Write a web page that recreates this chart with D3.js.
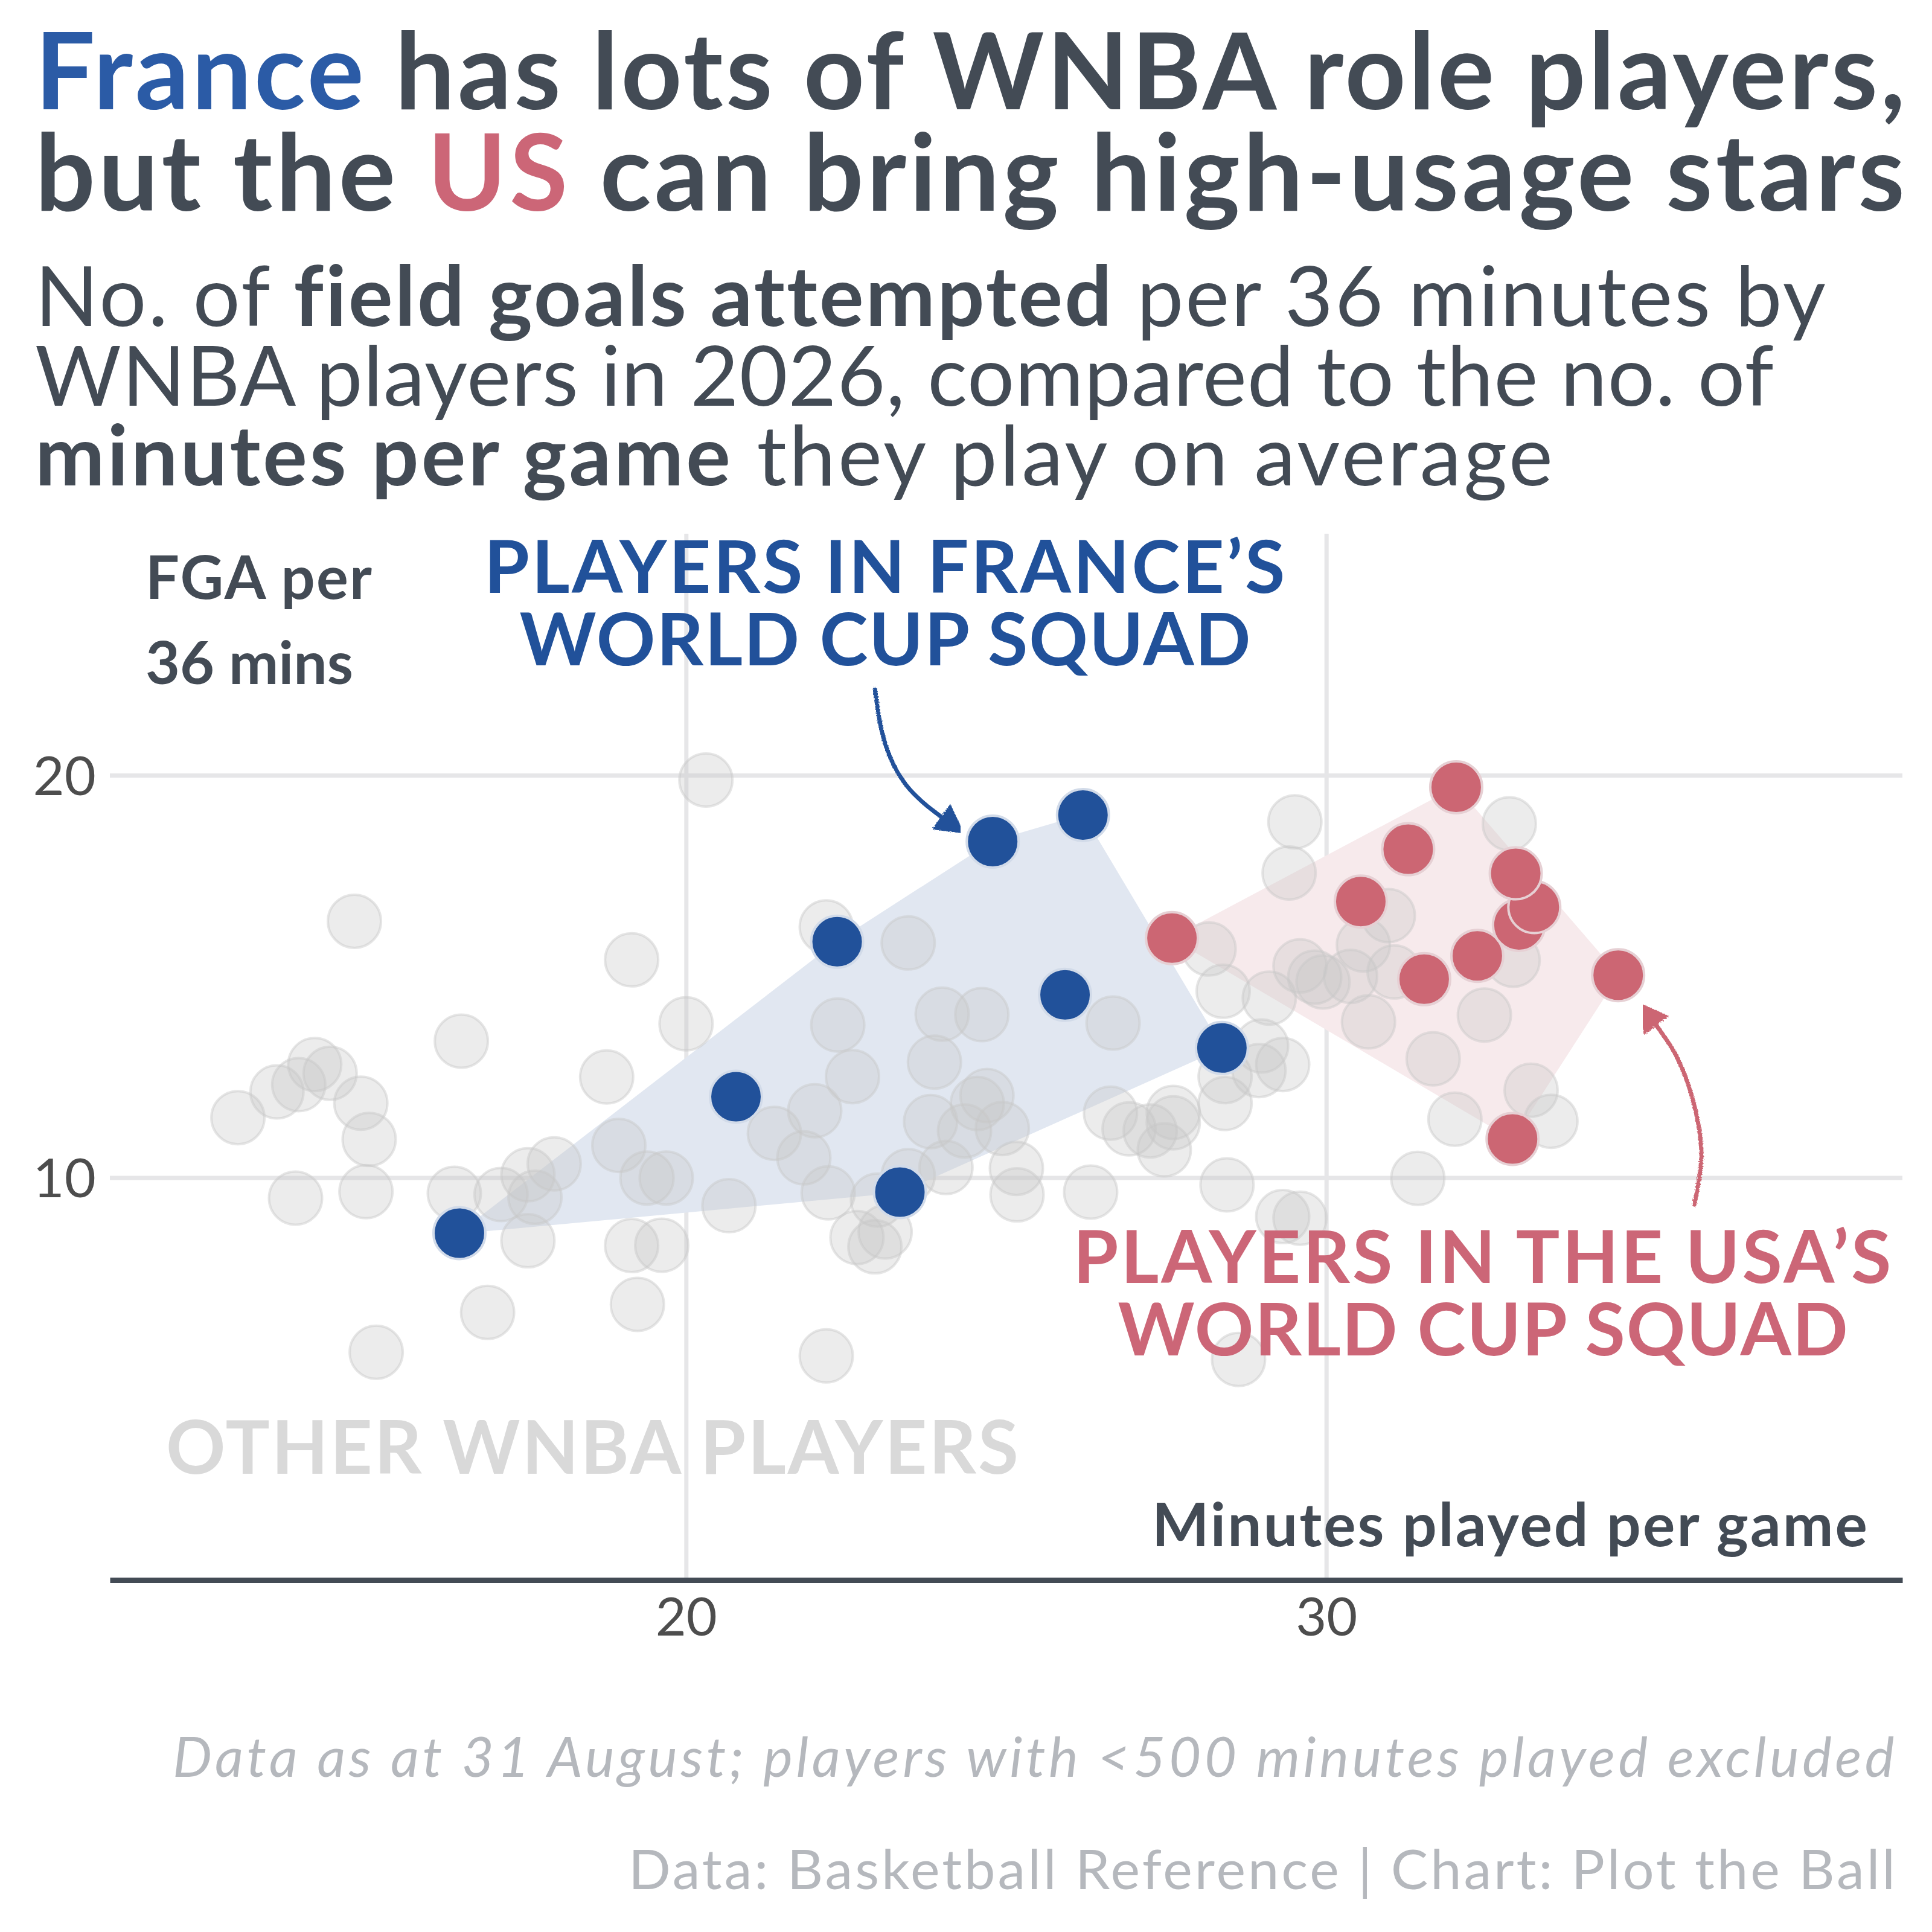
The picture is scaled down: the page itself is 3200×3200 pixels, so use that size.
<!DOCTYPE html>
<html><head><meta charset="utf-8">
<script src="https://cdn.jsdelivr.net/npm/d3@7"></script>
<style>body{margin:0;background:#fff}svg{display:block}</style>
</head><body>
<svg id="chart" width="3200" height="3200"></svg>
<script>
// ---- data: [minutes per game, FGA per 36] ----
const otherPlayers = [
 [20.31,19.88],[14.82,16.37],[19.15,15.41],[20.0,13.82],[16.49,13.39],[18.76,12.50],[14.20,12.81],[14.44,12.59],
 [13.95,12.31],[13.61,12.13],[13.0,11.49],[14.92,11.85],[15.05,10.95],[18.95,10.80],[17.94,10.34],[17.53,10.07],
 [19.39,9.99],[19.69,9.99],[13.90,9.49],[15.0,9.65],[16.38,9.61],[17.11,9.58],[17.64,9.51],[17.53,8.43],
 [19.15,8.31],[19.62,8.32],[16.90,6.65],[19.24,6.85],[15.16,5.66],
 [20.67,9.30],[22.19,16.23],[23.47,15.83],[22.37,13.79],[24.00,14.06],[24.62,14.05],[26.67,13.84],[23.88,12.87],
 [22.60,12.51],[22.01,11.66],[21.38,11.10],[21.84,10.49],[24.70,12.04],[24.55,11.84],[23.82,11.39],[24.35,11.16],
 [24.94,11.22],[23.47,10.05],[24.06,10.25],[25.16,10.23],[25.17,9.57],[22.22,9.62],[22.99,9.44],[22.67,8.51],
 [23.11,8.65],[22.95,8.28],[26.32,9.64],[26.63,11.60],[26.92,11.21],[27.25,11.16],[27.61,11.62],[27.61,11.36],
 [27.47,10.69],[28.17,15.68],[28.39,14.63],[28.42,12.51],[28.42,11.84],[28.45,9.82],[22.19,5.57],[28.63,5.48],
 [29.51,18.84],[29.42,17.57],[32.86,18.79],[30.97,16.51],[30.58,15.78],[32.92,15.40],[29.11,14.46],[29.59,15.26],
 [29.82,14.98],[29.95,14.86],[30.38,15.0],[31.06,15.11],[30.66,13.87],[32.47,14.04],[31.67,12.95],[28.99,13.27],
 [29.32,12.81],[28.95,12.66],[33.20,12.17],[33.51,11.40],[32.01,11.45],[31.43,9.98],[29.32,9.03],[29.59,8.99]
];
const francePlayers = [
 [16.46,8.62],[20.78,12.01],[23.34,9.64],[22.36,15.86],[24.79,18.35],[26.20,19.01],[25.92,14.54],[28.37,13.22]
];
const usaPlayers = [
 [27.59,15.95],[30.54,16.86],[31.28,18.16],[32.03,19.70],[31.53,14.93],[32.36,15.51],
 [33.01,16.28],[33.25,16.72],[32.96,17.56],[34.56,15.03],[32.91,10.96]
];
const xTicks = [20, 30];
const yTicks = [10, 20];
const xDomain = [11, 39];
const yDomain = [0, 26];
// annotation arrow paths, in data units
const franceArrow = [[22.95,22.13],[23.07,21.01],[23.22,20.33],[23.45,19.73],[23.71,19.31],[24.06,18.88]];
const usaArrow = [[35.75,9.33],[35.86,10.58],[35.73,11.91],[35.46,13.05],[35.10,13.90]];

const DARK = "#434b55", BLUE = "#21519a", BLUE_T = "#2b5ba6", RED = "#cc6673";
const FONT = "Lato, 'Noto Sans', sans-serif";

const svg = d3.select("#chart");
svg.append("rect").attr("width",3200).attr("height",3200).attr("fill","#fff");

const x = d3.scaleLinear().domain(xDomain).range([182, 3151]);
const y = d3.scaleLinear().domain(yDomain).range([2617, 884]);

// filter for hand-drawn arrows
const defs = svg.append("defs");
const f = defs.append("filter").attr("id","rough").attr("x","-20%").attr("y","-20%").attr("width","140%").attr("height","140%");
f.append("feTurbulence").attr("type","fractalNoise").attr("baseFrequency",0.6).attr("numOctaves",2).attr("result","n");
f.append("feDisplacementMap").attr("in","SourceGraphic").attr("in2","n").attr("scale",5);
[["headBlue",BLUE],["headRed",RED]].forEach(([id,c])=>{
  defs.append("marker").attr("id",id).attr("viewBox","-5 -30 60 60").attr("markerUnits","userSpaceOnUse")
    .attr("markerWidth",60).attr("markerHeight",60).attr("refX",10).attr("refY",0).attr("orient","auto")
    .append("path").attr("d","M0,-26 L48,0 L0,26 Z").attr("fill",c);
});

// gridlines
svg.append("g").attr("transform",`translate(${x.range()[0]},0)`)
  .call(d3.axisLeft(y).tickValues(yTicks).tickSize(-(x.range()[1]-x.range()[0])).tickFormat(""))
  .call(g=>{g.select(".domain").remove(); g.selectAll("line").attr("stroke","#e6e6e8").attr("stroke-width",7);});
svg.append("g").attr("transform",`translate(0,${y(0)})`)
  .call(d3.axisBottom(x).tickValues(xTicks).tickSize(-(y(0)-y(26))).tickFormat(""))
  .call(g=>{g.select(".domain").remove(); g.selectAll("line").attr("stroke","#e6e6e8").attr("stroke-width",7);});

// hulls
function hull(data, fill){
  const h = d3.polygonHull(data.map(d=>[x(d[0]),y(d[1])]));
  svg.append("path").attr("d","M"+h.join("L")+"Z").attr("fill",fill).attr("stroke",fill).attr("stroke-width",2);
}
hull(francePlayers, "#e1e7f1");
hull(usaPlayers, "#f7eaec");

// other players
svg.append("g").selectAll("circle").data(otherPlayers).join("circle")
  .attr("cx",d=>x(d[0])).attr("cy",d=>y(d[1])).attr("r",44)
  .attr("fill","rgb(200,200,200)").attr("fill-opacity",0.34)
  .attr("stroke","rgb(200,200,200)").attr("stroke-opacity",0.45).attr("stroke-width",4);

// squads
svg.append("g").selectAll("circle").data(francePlayers).join("circle")
  .attr("cx",d=>x(d[0])).attr("cy",d=>y(d[1])).attr("r",43)
  .attr("fill",BLUE).attr("stroke","#d2dbe9").attr("stroke-width",4);
svg.append("g").selectAll("circle").data(usaPlayers).join("circle")
  .attr("cx",d=>x(d[0])).attr("cy",d=>y(d[1])).attr("r",43)
  .attr("fill",RED).attr("stroke","#e6d0d4").attr("stroke-width",4);

// x axis
svg.append("g").attr("transform",`translate(0,${y(0)})`)
  .call(d3.axisBottom(x).tickValues(xTicks).tickSize(0).tickSizeOuter(0))
  .call(g=>{
    g.select(".domain").attr("stroke",DARK).attr("stroke-width",9);
    g.selectAll("text").attr("y",92).attr("dy",0).attr("fill","#4d4d4d")
      .attr("font-size",88).attr("font-family",FONT).attr("font-weight",400);
  });
// y axis labels
svg.append("g").attr("transform",`translate(${x.range()[0]},0)`)
  .call(d3.axisLeft(y).tickValues(yTicks).tickSize(0))
  .call(g=>{
    g.select(".domain").remove();
    g.selectAll("text").attr("x",-23).attr("dy","0.36em").attr("fill","#4d4d4d")
      .attr("font-size",90).attr("font-family",FONT).attr("font-weight",400);
  });

// arrows
const line = d3.line().x(d=>x(d[0])).y(d=>y(d[1])).curve(d3.curveCatmullRom);
svg.append("path").attr("d",line(franceArrow)).attr("fill","none").attr("stroke",BLUE)
  .attr("stroke-width",7).attr("stroke-linecap","round").attr("marker-end","url(#headBlue)").attr("filter","url(#rough)");
svg.append("path").attr("d",line(usaArrow)).attr("fill","none").attr("stroke",RED)
  .attr("stroke-width",7).attr("stroke-linecap","round").attr("marker-end","url(#headRed)").attr("filter","url(#rough)");

// text helper: fit width (shrink font if too wide, else widen letter-spacing), place by left/center/right
function txt(parts, opt){
  const t = svg.append("text").attr("x",0).attr("y",opt.y)
    .attr("font-family",FONT).attr("font-size",opt.size)
    .attr("font-weight",opt.weight||400).attr("font-style",opt.italic?"italic":"normal")
    .attr("fill",opt.color||DARK);
  parts.forEach(p=>{
    const s = t.append("tspan").text(p.t);
    if(p.c) s.attr("fill",p.c);
    if(p.w) s.attr("font-weight",p.w);
  });
  const n = t.text().length;
  const w0 = t.node().getBBox().width;
  if (w0 > opt.width) {
    t.attr("font-size", opt.size * opt.width / w0);
  } else {
    let ls = 0;
    for(let i=0;i<3;i++){
      const w = t.node().getBBox().width;
      ls = Math.max(0, ls + (opt.width - w)/n);
      t.style("letter-spacing", ls+"px");
    }
  }
  const bb = t.node().getBBox();
  let left = opt.left;
  if(opt.center!==undefined) left = opt.center - opt.width/2;
  if(opt.right!==undefined) left = opt.right - opt.width;
  t.attr("x", left - bb.x);
  return t;
}

// title
txt([{t:"France",c:BLUE_T},{t:" has lots of WNBA role players,"}],{y:181,size:176,weight:700,left:58,width:3102});
txt([{t:"but the "},{t:"US",c:"#cc6677"},{t:" can bring high-usage stars"}],{y:349,size:176,weight:700,left:58,width:3102});
// subtitle
txt([{t:"No. of "},{t:"field goals attempted",w:700},{t:" per 36 minutes by"}],{y:540,size:138,left:58,width:2969});
txt([{t:"WNBA players in 2026, compared to the no. of"}],{y:672,size:138,left:58,width:2881});
txt([{t:"minutes per game",w:700},{t:" they play on average"}],{y:804,size:138,left:58,width:2518});

// axis titles
txt([{t:"FGA per"}],{y:992,size:99,weight:700,left:241,width:377});
txt([{t:"36 mins"}],{y:1133,size:99,weight:700,left:241,width:344});
txt([{t:"Minutes played per game"}],{y:2561,size:100,weight:700,right:3096,width:1188});

// annotations
txt([{t:"PLAYERS IN FRANCE’S"}],{y:982,size:121,weight:700,center:1467,width:1330,color:BLUE});
txt([{t:"WORLD CUP SQUAD"}],{y:1102,size:121,weight:700,center:1467,width:1213,color:BLUE});
txt([{t:"PLAYERS IN THE USA’S"}],{y:2125,size:121,weight:700,center:2457,width:1359,color:"#cc6677"});
txt([{t:"WORLD CUP SQUAD"}],{y:2245,size:121,weight:700,center:2457,width:1211,color:"#cc6677"});
txt([{t:"OTHER WNBA PLAYERS"}],{y:2441,size:122,weight:700,left:275,width:1415,color:"#d9d9d9"});

// footer
txt([{t:"Data as at 31 August; players with <500 minutes played excluded"}],{y:2943,size:92,italic:true,right:3143,width:2857,color:"#b5b8bd"});
txt([{t:"Data: Basketball Reference | Chart: Plot the Ball"}],{y:3129,size:92,right:3143,width:2102,color:"#b5b8bd"});
</script>
</body></html>
